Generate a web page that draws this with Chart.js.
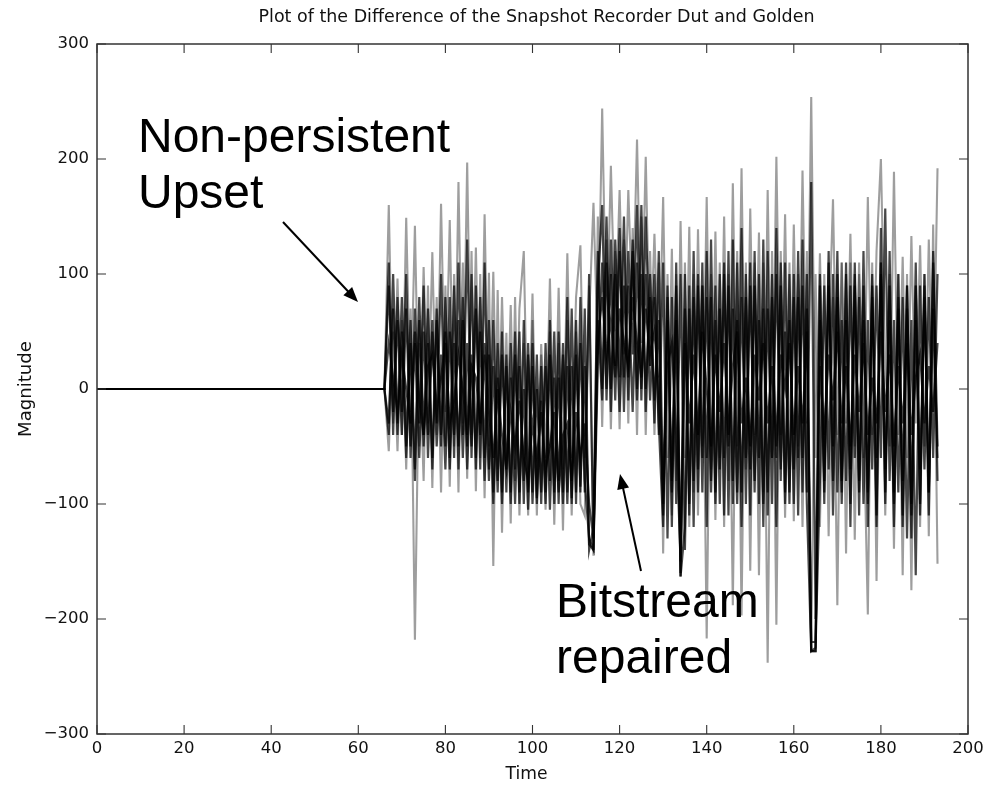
<!DOCTYPE html>
<html><head><meta charset="utf-8">
<script src="https://cdn.jsdelivr.net/npm/chart.js@4/dist/chart.umd.min.js"></script>
<style>html,body{margin:0;padding:0;background:#fff;}canvas{display:block;}</style>
</head><body>
<canvas id="c" width="1004" height="786"></canvas>
<script>
const chartTitle = "Plot of the Difference of the Snapshot Recorder Dut and Golden";
const xTitle = "Time";
const yTitle = "Magnitude";
const xTickValues = [0, 20, 40, 60, 80, 100, 120, 140, 160, 180, 200];
const yTickValues = [-300, -200, -100, 0, 100, 200, 300];
const notes = [["Non-persistent", "Upset"], ["Bitstream", "repaired"]];

// flat (zero) from t=0 until t=66, then one sample per time step t=66..193
const flatStart = 0;
const firstTime = 66;

// light traces (outer spikes)
const traceUpper = [
  0,160,-30,96,-40,149,-20,142,-50,106,-30,119,-40,161,-20,147,
  -50,180,-30,197,-40,123,-60,152,-50,102,-70,80,-60,73,-80,70,
  120,-70,83,-90,39,-60,96,-80,88,-70,118,-60,80,125,-60,60,
  162,30,244,40,194,50,173,30,173,60,217,40,202,20,135,10,
  167,-60,122,-80,146,-60,141,-90,139,-50,167,-70,137,-60,150,-80,
  179,-50,192,-70,157,-40,136,-90,173,-60,202,-40,152,-70,143,-50,
  190,-30,254,-60,118,-50,40,165,-40,110,-30,135,-50,110,-60,167,
  -40,120,200,20,-50,189,-40,115,-60,133,-30,125,-50,130,-20,192
];
const traceLower = [
  0,-54,50,-54,60,-70,70,-218,40,-80,90,-86,80,-90,90,-85,
  100,-90,110,-78,120,-89,100,-95,101,-154,86,-125,49,-117,80,-110,
  40,-110,60,-110,30,-105,50,-118,40,-123,60,-110,50,-100,-110,90,
  -145,150,-33,130,-35,120,-35,130,-30,140,-40,150,-40,120,-40,110,
  -143,100,-110,100,-140,110,-120,100,-110,90,-217,100,-114,110,-120,100,
  -188,120,-197,110,-158,110,-162,110,-238,120,-205,120,-112,110,-115,100,
  -120,120,-228,100,-120,100,-128,80,-188,110,-143,110,-131,100,-20,-196,
  110,-167,110,-110,100,-139,100,-162,100,-175,90,-120,100,-128,143,-152
];
// dark traces (dense core)
const traceCoreA = [
  0,90,-20,60,-40,70,-50,40,-60,50,-40,60,-50,30,-70,50,
  -40,60,-60,40,-50,70,-40,30,-80,20,-90,30,-70,10,-100,20,
  -80,30,-100,0,-90,20,-105,10,-80,30,-100,20,-90,40,-80,-130,
  -140,60,-10,110,0,100,-20,90,10,120,-10,100,0,80,-10,60,
  -110,60,-80,90,-163,-120,70,-80,90,-60,80,-90,60,-70,100,-50,
  70,-100,80,-60,90,-80,60,-100,70,-60,100,-70,50,-90,80,-60,
  90,-100,-228,-228,60,-80,90,-50,80,-100,60,-70,90,-80,60,-90,
  80,-60,100,-70,60,-100,70,-80,90,-110,60,-70,80,-90,70,-60
];
const traceCoreB = [
  0,-30,70,-40,50,-60,40,-80,60,-50,40,-60,70,-40,50,-70,
  40,-50,60,-70,30,-60,50,-80,30,-100,10,-90,20,-100,30,-90,
  0,-105,20,-95,-10,-100,30,-90,10,-100,20,-95,30,-85,20,-135,
  -140,20,110,0,100,-10,120,10,90,-20,110,0,100,-10,80,-30,
  -120,80,-90,60,-163,70,-100,80,-70,90,-60,80,-100,70,-60,90,
  -80,60,-90,80,-70,90,-60,70,-90,80,-60,90,-100,60,-70,80,
  -60,70,-228,-225,-80,90,-70,100,-90,60,-80,90,-60,80,-100,60,
  -70,90,-60,157,-80,60,-90,80,-130,60,-162,90,-70,80,-60,100
];
const traceCoreC = [
  0,40,10,-20,30,0,-30,50,-10,-40,20,30,-20,10,40,-30,
  -10,30,0,-40,20,10,-30,40,-20,-60,0,-40,-70,-20,-50,-10,
  -60,-80,-30,-60,-20,-70,-50,-20,-90,-40,-30,-80,-20,-60,-30,-100,
  -130,40,80,30,60,10,70,40,20,80,40,10,70,30,50,0,
  -90,20,40,-40,-150,40,-30,30,-40,50,0,-50,30,-20,40,-40,
  20,50,-30,10,-50,30,-10,40,-30,20,-50,30,0,40,-40,20,
  -30,50,-220,-220,20,-40,30,-10,50,-30,20,-50,30,-20,40,-40,
  10,-30,50,-20,30,-50,20,-30,40,-40,10,30,-30,20,-20,40
];
const traceCoreD = [
  0,110,-40,80,-20,100,-60,70,-30,90,-60,50,-30,100,-50,80,
  -60,110,-40,130,-60,90,-70,110,-70,60,-80,50,-90,40,-70,50,
  -100,40,-90,30,-100,40,-80,50,-100,40,-90,70,-100,80,-90,100,
  -140,90,160,-10,130,20,140,-20,120,30,160,-10,150,20,100,-40,
  110,-130,80,-100,100,-140,90,-120,100,-90,120,-80,90,-100,110,-110,
  130,-90,140,-100,110,-90,100,-120,120,-100,140,-80,110,-100,100,-110,
  130,-90,180,-200,100,-90,110,-80,120,-90,100,-100,110,-90,90,-120,
  100,-110,140,-90,90,-120,80,-110,70,-130,90,-100,90,-110,110,-80
];
const traceCoreE = [
  0,-40,100,-30,80,-50,60,-70,80,-40,70,-70,60,-50,80,-60,
  90,-70,80,-50,100,-70,80,-60,60,-90,40,-100,30,-90,50,-100,
  60,-90,40,-100,20,-90,60,-100,50,-90,80,-100,60,-90,70,-140,
  -120,120,0,150,-20,130,10,150,-10,130,0,160,-20,100,-30,120,
  -100,90,-120,110,-160,100,-110,120,-90,110,-120,130,-90,100,-110,120,
  -100,110,-120,100,-110,120,-100,130,-110,100,-120,110,-90,100,-100,120,
  -90,100,-228,-228,90,-100,120,-110,100,-80,110,-120,100,-110,120,-100,
  90,-120,110,-100,120,-90,100,-120,90,-100,110,-110,100,-90,120,-50
];

function toPoints(values) {
  const pts = [{x: flatStart, y: 0}];
  values.forEach((v, i) => pts.push({x: firstTime + i, y: v}));
  return pts;
}
const light = {color: 'rgba(0,0,0,0.38)', width: 2.1};
const dark = {color: 'rgba(0,0,0,0.72)', width: 2.2};
const series = [
  [traceUpper, light], [traceLower, light],
  [traceCoreA, dark], [traceCoreB, dark], [traceCoreC, dark], [traceCoreD, dark], [traceCoreE, dark]
];

const TICK_FONT = {family: '"DejaVu Sans", sans-serif', size: 16.5};

function drawFitText(ctx, text, cx, cy, targetW, font, rot) {
  ctx.save();
  ctx.font = font;
  const w = ctx.measureText(text).width;
  ctx.translate(cx, cy);
  if (rot) ctx.rotate(rot);
  ctx.scale(targetW / w, 1);
  ctx.textAlign = 'center';
  ctx.textBaseline = 'middle';
  ctx.fillStyle = '#111';
  ctx.fillText(text, 0, 0);
  ctx.restore();
}
function arrow(ctx, x1, y1, x2, y2) {
  const ang = Math.atan2(y2 - y1, x2 - x1);
  const len = 15, half = 6;
  ctx.beginPath();
  ctx.moveTo(x1, y1);
  ctx.lineTo(x2 - Math.cos(ang) * len * 0.8, y2 - Math.sin(ang) * len * 0.8);
  ctx.lineWidth = 2;
  ctx.strokeStyle = '#000';
  ctx.stroke();
  ctx.beginPath();
  ctx.moveTo(x2, y2);
  ctx.lineTo(x2 - Math.cos(ang) * len + Math.sin(ang) * half, y2 - Math.sin(ang) * len - Math.cos(ang) * half);
  ctx.lineTo(x2 - Math.cos(ang) * len - Math.sin(ang) * half, y2 - Math.sin(ang) * len + Math.cos(ang) * half);
  ctx.closePath();
  ctx.fillStyle = '#000';
  ctx.fill();
}

const framePlugin = {
  id: 'frame',
  afterDraw(chart) {
    const {ctx, chartArea: a, scales} = chart;
    const xs = scales.x, ys = scales.y;
    ctx.save();
    ctx.strokeStyle = '#333';
    ctx.lineWidth = 1.5;
    ctx.strokeRect(a.left, a.top, a.right - a.left, a.bottom - a.top);
    const L = 9;
    ctx.beginPath();
    xs.ticks.forEach(t => {
      const p = xs.getPixelForValue(t.value);
      ctx.moveTo(p, a.bottom); ctx.lineTo(p, a.bottom - L);
      ctx.moveTo(p, a.top); ctx.lineTo(p, a.top + L);
    });
    ys.ticks.forEach(t => {
      const p = ys.getPixelForValue(t.value);
      ctx.moveTo(a.left, p); ctx.lineTo(a.left + L, p);
      ctx.moveTo(a.right, p); ctx.lineTo(a.right - L, p);
    });
    ctx.lineWidth = 1.1;
    ctx.stroke();
    ctx.restore();

    const cx = (a.left + a.right) / 2;
    drawFitText(ctx, chartTitle, cx + 4, 17, 556, '18px "DejaVu Sans", sans-serif');
    drawFitText(ctx, xTitle, cx - 6, 774, 42, '18px "DejaVu Sans", sans-serif');
    drawFitText(ctx, yTitle, 26, (a.top + a.bottom) / 2, 96, '18px "DejaVu Sans", sans-serif', -Math.PI / 2);

    ctx.save();
    ctx.fillStyle = '#000';
    ctx.font = '48px "Liberation Sans", Arial, sans-serif';
    ctx.textAlign = 'left';
    ctx.textBaseline = 'alphabetic';
    ctx.fillText(notes[0][0], 138, 152);
    ctx.fillText(notes[0][1], 138, 208);
    ctx.fillText(notes[1][0], 556, 617);
    ctx.fillText(notes[1][1], 556, 673);
    arrow(ctx, 283, 222, 358, 302);
    arrow(ctx, 641, 571, 620, 474);
    ctx.restore();
  }
};

new Chart(document.getElementById('c'), {
  type: 'line',
  data: {
    datasets: series.map(([vals, st], i) => ({
      label: 'trace ' + (i + 1),
      data: toPoints(vals),
      borderColor: st.color,
      borderWidth: st.width,
      pointRadius: 0,
      fill: false,
      tension: 0
    }))
  },
  options: {
    responsive: false,
    animation: false,
    events: [],
    layout: {padding: {top: 44, right: 36, left: 0, bottom: 0}},
    plugins: {legend: {display: false}, title: {display: false}, tooltip: {enabled: false}},
    scales: {
      x: {
        type: 'linear', min: 0, max: 200,
        afterFit: s => { s.height = 52; },
        afterBuildTicks: s => { s.ticks = xTickValues.map(v => ({value: v})); },
        grid: {display: false, drawTicks: false},
        border: {display: false},
        ticks: {font: TICK_FONT, color: '#111', padding: 5, maxRotation: 0}
      },
      y: {
        type: 'linear', min: -300, max: 300,
        afterFit: s => { s.width = 97; },
        afterBuildTicks: s => { s.ticks = yTickValues.map(v => ({value: v})); },
        grid: {display: false, drawTicks: false},
        border: {display: false},
        ticks: {font: TICK_FONT, color: '#111', padding: 8,
          callback: v => v < 0 ? '\u2212' + Math.abs(v) : String(v)}
      }
    }
  },
  plugins: [framePlugin]
});
</script>
</body></html>
